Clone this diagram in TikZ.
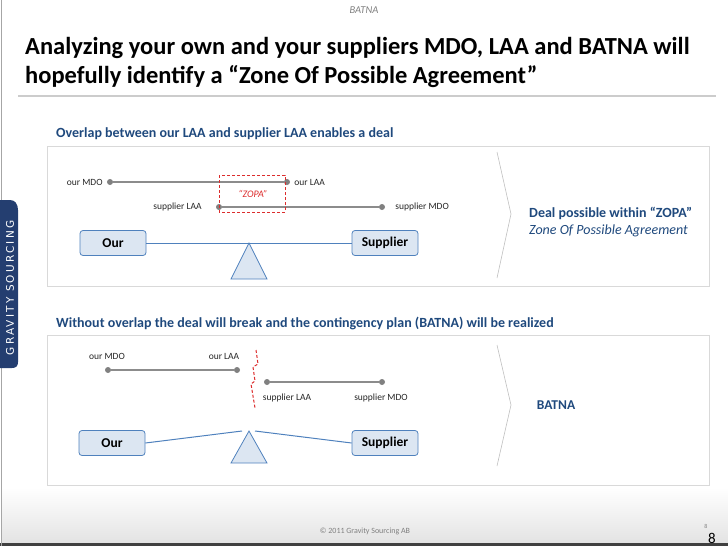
\documentclass[tikz,border=0pt]{standalone}
\usepackage{fontspec}
\setmainfont{Carlito}
\newfontfamily\tabfont[LetterSpace=21]{DejaVu Sans}
\usetikzlibrary{positioning,calc}
\definecolor{textblue}{RGB}{31,73,125}
\definecolor{boxfill}{RGB}{220,230,242}
\definecolor{boxline}{RGB}{79,129,189}
\definecolor{zopared}{RGB}{220,45,45}
\definecolor{tabblue}{RGB}{36,62,112}
\definecolor{framegray}{RGB}{217,217,217}

\begin{document}
\begin{tikzpicture}[
        x=1pt, y=-1pt,
        party/.style={draw=boxline, fill=boxfill, rounded corners=3pt, line width=0.8pt,
            minimum width=66pt, minimum height=25pt, font=\bfseries\fontsize{13.5}{15}\selectfont},
        dot/.style={circle, fill=gray, inner sep=0pt, minimum size=6pt},
        tag/.style={font=\fontsize{9.5}{10}\selectfont, text=black!85, inner sep=1pt},
        rangeline/.style={draw=gray!90, line width=1.2pt},
        beam/.style={draw=boxline, line width=1pt},
        pivot/.style={draw=boxline, fill=boxfill, line width=0.8pt},
        frame/.style={draw=framegray, line width=0.8pt},
        chevron/.style={draw=gray!50, line width=0.6pt},
        headline/.style={font=\bfseries\fontsize{14}{16}\selectfont, text=textblue, inner sep=0pt},
        titletext/.style={font=\bfseries\fontsize{24.5}{28}\selectfont, inner sep=0pt}
    ]
        \useasboundingbox (0,0) rectangle (728,546);

        % Page frame, footer and logo tab
        \shade[top color=white, bottom color=black!11] (2,488) rectangle (728,543);
        \fill[black!75] (0,543) rectangle (728,546);
        \draw[gray!70, line width=0.8pt] (1,0) -- (1,546);
        \fill[tabblue] (0,200) -- (10,200) .. controls (15,200) and (18,204) .. (18,210)
            -- (18,362) .. controls (18,366) and (16,368) .. (12,368) -- (0,368) -- cycle;
        \node[rotate=90, text=white, font=\tabfont\fontsize{10.5}{11}\selectfont, inner sep=0pt]
            (logo) at (10,288) {GRAVITY SOURCING};

        % Header
        \node[font=\itshape\fontsize{10.5}{11}\selectfont, text=gray] (topic) at (364,10) {BATNA};
        \node[titletext, anchor=base west] (title1) at (25,54)
            {Analyzing your own and your suppliers MDO, LAA and BATNA will};
        \node[titletext, anchor=base west] (title2) at (25,83)
            {hopefully identify a “Zone Of Possible Agreement”};
        \draw[black!20, line width=2pt] (18,96) -- (716,96);

        % Case 1: overlap
        \node[headline, anchor=base west] (head1) at (56,137)
            {Overlap between our LAA and supplier LAA enables a deal};
        \draw[frame] (47,146) rectangle (709,286);

        \node[dot] (omdoA) at (110,182) {};
        \node[dot] (olaaA) at (287,182) {};
        \node[dot] (slaaA) at (219,207) {};
        \node[dot] (smdoA) at (382,207) {};
        \draw[rangeline] (omdoA) -- (olaaA);
        \draw[rangeline] (slaaA) -- (smdoA);
        \node[tag, left=3pt of omdoA] {our MDO};
        \node[tag, right=3pt of olaaA] {our LAA};
        \node[tag, left=13pt of slaaA] {supplier LAA};
        \node[tag, right=9pt of smdoA] {supplier MDO};

        \draw[zopared, dash pattern=on 3pt off 2pt, line width=1pt] (219,175) rectangle (285,212);
        \node[font=\itshape\fontsize{10}{11}\selectfont, text=zopared] (zopa) at (253,194) {“ZOPA”};

        \node[party] (ourA) at (113,243) {Our};
        \node[party] (supA) at (385,243) {Supplier};
        \coordinate (tipA) at (249,243);
        \draw[pivot] (tipA) -- ++(18,36) -- ++(-36,0) -- cycle;
        \draw[beam] (ourA) -- (supA);

        \draw[chevron] (497,152) -- (511,214) -- (497,278);
        \node[font=\bfseries\fontsize{14}{16}\selectfont, text=textblue, anchor=base west, inner sep=0pt]
            (deal) at (529,217) {Deal possible within “ZOPA”};
        \node[font=\itshape\fontsize{14}{16}\selectfont, text=textblue, anchor=base west, inner sep=0pt]
            (zone) at (529,234) {Zone Of Possible Agreement};

        % Case 2: no overlap
        \node[headline, anchor=base west] (head2) at (56,327)
            {Without overlap the deal will break and the contingency plan (BATNA) will be realized};
        \draw[frame] (47,335) rectangle (709,485);

        \node[dot] (omdoB) at (108,370) {};
        \node[dot] (olaaB) at (237,370) {};
        \node[dot] (slaaB) at (267,382) {};
        \node[dot] (smdoB) at (382,382) {};
        \draw[rangeline] (omdoB) -- (olaaB);
        \draw[rangeline] (slaaB) -- (smdoB);
        \node[tag] at (107,356) {our MDO};
        \node[tag] at (224,356) {our LAA};
        \node[tag] at (287,398) {supplier LAA};
        \node[tag] at (381,398) {supplier MDO};

        \draw[zopared, dash pattern=on 3pt off 2pt, line width=1pt] (256,350) -- (258,364) -- (253,367)
            -- (255,381) -- (251,384) -- (255,408);

        \node[party] (ourB) at (112,443) {Our};
        \node[party] (supB) at (385,443) {Supplier};
        \coordinate (tipB) at (249,431);
        \coordinate (endL) at (242,431);
        \coordinate (endR) at (255,431);
        \draw[pivot] (tipB) -- ++(18,32) -- ++(-36,0) -- cycle;
        \draw[beam] (ourB.east) -- (endL);
        \draw[beam] (endR) -- (supB.west);

        \draw[chevron] (497,345) -- (511,405) -- (497,466);
        \node[font=\bfseries\fontsize{13.5}{15}\selectfont, text=textblue] (batna) at (556,405) {BATNA};

        % Footer text
        \node[font=\fontsize{8}{9}\selectfont, text=gray] (copy) at (365,531) {© 2011 Gravity Sourcing AB};
        \node[font=\fontsize{6}{7}\selectfont, text=gray] (pgsmall) at (706,526) {8};
        \node[font=\fontsize{15}{16}\selectfont] (pgbig) at (712,538) {8};
\end{tikzpicture}
\end{document}
